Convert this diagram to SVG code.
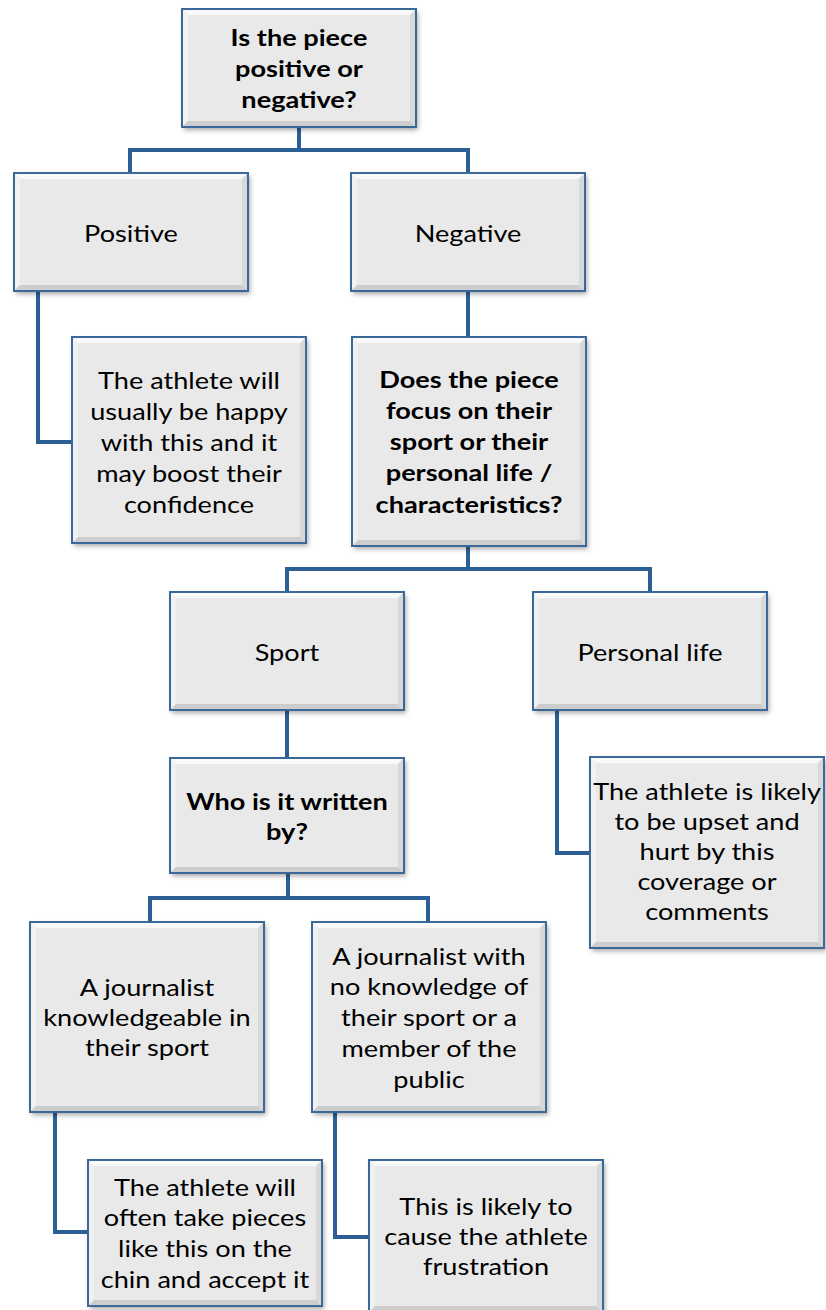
<svg xmlns="http://www.w3.org/2000/svg" width="826" height="1310" viewBox="0 0 826 1310">
<defs>
<filter id="sh" x="-10%" y="-10%" width="125%" height="125%">
<feDropShadow dx="2" dy="3" stdDeviation="2.5" flood-color="#000" flood-opacity="0.35"/>
</filter>
<style>
.bg{fill:#e9e9e9}
.bd{fill:none;stroke:#3a6898;stroke-width:2}
.bt{fill:#f9f9f9}
.bl{fill:#f1f1f1}
.bb{fill:#cdcdcd}
.br{fill:#d8d8d8}
text{font-family:Lato,"Liberation Sans",sans-serif;font-size:23px;fill:#000;text-anchor:middle}
.b{font-weight:bold}
.c{fill:none;stroke:#2b5f95;stroke-width:4;stroke-linejoin:miter}
</style>
</defs>
<g id="connectors">
<path class="c" d="M299,127 V150 M130,173 V150 H468 V173"/>
<path class="c" d="M38,291 V442 H72"/>
<path class="c" d="M468,291 V337"/>
<path class="c" d="M468,546 V569 M287,592 V569 H650 V592"/>
<path class="c" d="M557,710 V853 H591"/>
<path class="c" d="M287,710 V758"/>
<path class="c" d="M288,873 V898 M150,922 V898 H428 V922"/>
<path class="c" d="M55,1112 V1232 H88"/>
<path class="c" d="M335,1112 V1237 H369"/>
</g>
<g id="n-top" transform="translate(182,9)">
<g filter="url(#sh)"><rect class="bg" width="234" height="118"/></g>
<polygon class="bt" points="0,0 234,0 228,6 6,6"/><polygon class="bl" points="0,0 6,6 6,112 0,118"/><polygon class="bb" points="0,118 6,112 228,112 234,118"/><polygon class="br" points="234,0 234,118 228,112 228,6"/>
<rect class="bd" width="234" height="118"/>
<g transform="translate(117,0) scale(1.18,1)">
<text class="b" x="0" y="37">Is the piece</text>
<text class="b" x="0" y="68">positive or</text>
<text class="b" x="0" y="99">negative?</text>
</g>
</g>
<g id="n-positive" transform="translate(14,173)">
<g filter="url(#sh)"><rect class="bg" width="234" height="118"/></g>
<polygon class="bt" points="0,0 234,0 228,6 6,6"/><polygon class="bl" points="0,0 6,6 6,112 0,118"/><polygon class="bb" points="0,118 6,112 228,112 234,118"/><polygon class="br" points="234,0 234,118 228,112 228,6"/>
<rect class="bd" width="234" height="118"/>
<g transform="translate(117,0) scale(1.18,1)"><text x="0" y="69">Positive</text></g>
</g>
<g id="n-negative" transform="translate(351,173)">
<g filter="url(#sh)"><rect class="bg" width="234" height="118"/></g>
<polygon class="bt" points="0,0 234,0 228,6 6,6"/><polygon class="bl" points="0,0 6,6 6,112 0,118"/><polygon class="bb" points="0,118 6,112 228,112 234,118"/><polygon class="br" points="234,0 234,118 228,112 228,6"/>
<rect class="bd" width="234" height="118"/>
<g transform="translate(117,0) scale(1.18,1)"><text x="0" y="69">Negative</text></g>
</g>
<g id="n-happy" transform="translate(72,337)">
<g filter="url(#sh)"><rect class="bg" width="234" height="206"/></g>
<polygon class="bt" points="0,0 234,0 228,6 6,6"/><polygon class="bl" points="0,0 6,6 6,200 0,206"/><polygon class="bb" points="0,206 6,200 228,200 234,206"/><polygon class="br" points="234,0 234,206 228,200 228,6"/>
<rect class="bd" width="234" height="206"/>
<g transform="translate(117,0) scale(1.18,1)">
<text x="0" y="52">The athlete will</text>
<text x="0" y="83">usually be happy</text>
<text x="0" y="114">with this and it</text>
<text x="0" y="145">may boost their</text>
<text x="0" y="176">confidence</text>
</g>
</g>
<g id="n-focus" transform="translate(352,337)">
<g filter="url(#sh)"><rect class="bg" width="234" height="209"/></g>
<polygon class="bt" points="0,0 234,0 228,6 6,6"/><polygon class="bl" points="0,0 6,6 6,203 0,209"/><polygon class="bb" points="0,209 6,203 228,203 234,209"/><polygon class="br" points="234,0 234,209 228,203 228,6"/>
<rect class="bd" width="234" height="209"/>
<g transform="translate(117,0) scale(1.18,1)">
<text class="b" x="0" y="51">Does the piece</text>
<text class="b" x="0" y="82">focus on their</text>
<text class="b" x="0" y="113">sport or their</text>
<text class="b" x="0" y="144">personal life /</text>
<text class="b" x="0" y="176">characteristics?</text>
</g>
</g>
<g id="n-sport" transform="translate(170,592)">
<g filter="url(#sh)"><rect class="bg" width="234" height="118"/></g>
<polygon class="bt" points="0,0 234,0 228,6 6,6"/><polygon class="bl" points="0,0 6,6 6,112 0,118"/><polygon class="bb" points="0,118 6,112 228,112 234,118"/><polygon class="br" points="234,0 234,118 228,112 228,6"/>
<rect class="bd" width="234" height="118"/>
<g transform="translate(117,0) scale(1.18,1)"><text x="0" y="69">Sport</text></g>
</g>
<g id="n-personal" transform="translate(533,592)">
<g filter="url(#sh)"><rect class="bg" width="234" height="118"/></g>
<polygon class="bt" points="0,0 234,0 228,6 6,6"/><polygon class="bl" points="0,0 6,6 6,112 0,118"/><polygon class="bb" points="0,118 6,112 228,112 234,118"/><polygon class="br" points="234,0 234,118 228,112 228,6"/>
<rect class="bd" width="234" height="118"/>
<g transform="translate(117,0) scale(1.18,1)"><text x="0" y="69">Personal life</text></g>
</g>
<g id="n-upset" transform="translate(590,757)">
<g filter="url(#sh)"><rect class="bg" width="234" height="191"/></g>
<polygon class="bt" points="0,0 234,0 228,6 6,6"/><polygon class="bl" points="0,0 6,6 6,185 0,191"/><polygon class="bb" points="0,191 6,185 228,185 234,191"/><polygon class="br" points="234,0 234,191 228,185 228,6"/>
<rect class="bd" width="234" height="191"/>
<g transform="translate(117,0) scale(1.18,1)">
<text x="0" y="43">The athlete is likely</text>
<text x="0" y="73">to be upset and</text>
<text x="0" y="103">hurt by this</text>
<text x="0" y="133">coverage or</text>
<text x="0" y="163">comments</text>
</g>
</g>
<g id="n-who" transform="translate(170,758)">
<g filter="url(#sh)"><rect class="bg" width="234" height="115"/></g>
<polygon class="bt" points="0,0 234,0 228,6 6,6"/><polygon class="bl" points="0,0 6,6 6,109 0,115"/><polygon class="bb" points="0,115 6,109 228,109 234,115"/><polygon class="br" points="234,0 234,115 228,109 228,6"/>
<rect class="bd" width="234" height="115"/>
<g transform="translate(117,0) scale(1.18,1)">
<text class="b" x="0" y="52">Who is it written</text>
<text class="b" x="0" y="82">by?</text>
</g>
</g>
<g id="n-knowledgeable" transform="translate(30,922)">
<g filter="url(#sh)"><rect class="bg" width="234" height="190"/></g>
<polygon class="bt" points="0,0 234,0 228,6 6,6"/><polygon class="bl" points="0,0 6,6 6,184 0,190"/><polygon class="bb" points="0,190 6,184 228,184 234,190"/><polygon class="br" points="234,0 234,190 228,184 228,6"/>
<rect class="bd" width="234" height="190"/>
<g transform="translate(117,0) scale(1.18,1)">
<text x="0" y="74">A journalist</text>
<text x="0" y="104">knowledgeable in</text>
<text x="0" y="134">their sport</text>
</g>
</g>
<g id="n-noknowledge" transform="translate(312,922)">
<g filter="url(#sh)"><rect class="bg" width="234" height="190"/></g>
<polygon class="bt" points="0,0 234,0 228,6 6,6"/><polygon class="bl" points="0,0 6,6 6,184 0,190"/><polygon class="bb" points="0,190 6,184 228,184 234,190"/><polygon class="br" points="234,0 234,190 228,184 228,6"/>
<rect class="bd" width="234" height="190"/>
<g transform="translate(117,0) scale(1.18,1)">
<text x="0" y="43">A journalist with</text>
<text x="0" y="73">no knowledge of</text>
<text x="0" y="104">their sport or a</text>
<text x="0" y="135">member of the</text>
<text x="0" y="166">public</text>
</g>
</g>
<g id="n-chin" transform="translate(88,1160)">
<g filter="url(#sh)"><rect class="bg" width="234" height="146"/></g>
<polygon class="bt" points="0,0 234,0 228,6 6,6"/><polygon class="bl" points="0,0 6,6 6,140 0,146"/><polygon class="bb" points="0,146 6,140 228,140 234,146"/><polygon class="br" points="234,0 234,146 228,140 228,6"/>
<rect class="bd" width="234" height="146"/>
<g transform="translate(117,0) scale(1.18,1)">
<text x="0" y="36">The athlete will</text>
<text x="0" y="66">often take pieces</text>
<text x="0" y="97">like this on the</text>
<text x="0" y="128">chin and accept it</text>
</g>
</g>
<g id="n-frustration" transform="translate(369,1160)">
<g filter="url(#sh)"><rect class="bg" width="234" height="152"/></g>
<polygon class="bt" points="0,0 234,0 228,6 6,6"/><polygon class="bl" points="0,0 6,6 6,146 0,152"/><polygon class="bb" points="0,152 6,146 228,146 234,152"/><polygon class="br" points="234,0 234,152 228,146 228,6"/>
<rect class="bd" width="234" height="152"/>
<g transform="translate(117,0) scale(1.18,1)">
<text x="0" y="55">This is likely to</text>
<text x="0" y="85">cause the athlete</text>
<text x="0" y="115">frustration</text>
</g>
</g>
</svg>
